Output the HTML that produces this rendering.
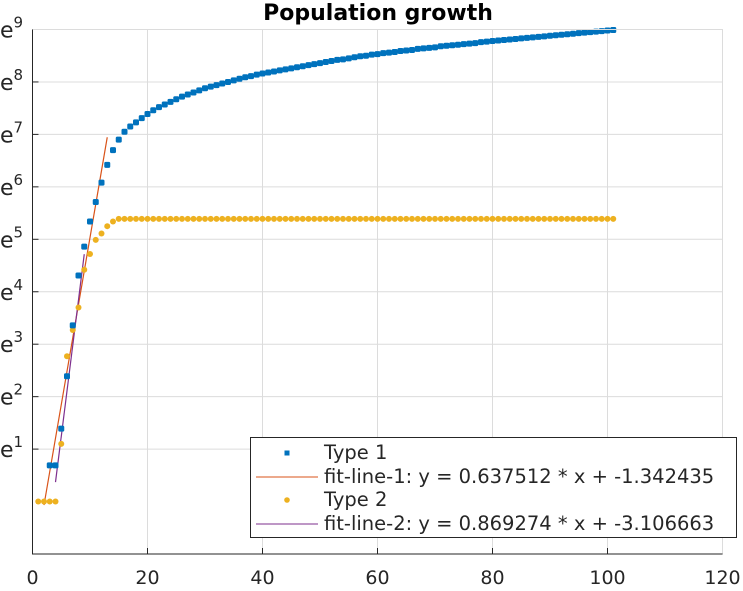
<!DOCTYPE html>
<html><head><meta charset="utf-8"><style>
body{margin:0;background:#fff;}
svg text{font-family:"DejaVu Sans","Liberation Sans",sans-serif;}
</style></head><body>
<svg id="chart" width="743" height="586" xmlns="http://www.w3.org/2000/svg">
<text x="378" y="20" text-anchor="middle" font-size="22" font-weight="bold" fill="#000">Population growth</text>
<g id="grid"></g><g id="fits"></g><g id="pts"></g><g id="axes"></g>
<g>
<rect x="250.5" y="437.5" width="486" height="100" fill="#fff" stroke="#262626" stroke-width="1"/>
<rect x="284.5" y="450.5" width="5" height="5" fill="#0072BD"/>
<text x="324" y="459" font-size="19.5" fill="#262626">Type 1</text>
<line x1="256" y1="477" x2="318" y2="477" stroke="#D95319"/>
<text x="324" y="483" font-size="19.5" fill="#262626">fit-line-1: y = 0.637512 * x + -1.342435</text>
<circle cx="287" cy="500" r="2.8" fill="#EDB120"/>
<text x="324" y="506" font-size="19.5" fill="#262626">Type 2</text>
<line x1="256" y1="524" x2="318" y2="524" stroke="#7E2F8E"/>
<text x="324" y="530" font-size="19.5" fill="#262626">fit-line-2: y = 0.869274 * x + -3.106663</text>
</g>
</svg>
<script>
const xTicks=[0,20,40,60,80,100,120];
const yTickExps=[1,2,3,4,5,6,7,8,9];
const type1X=[];for(let i=3;i<=101;i++)type1X.push(i);
const type1LnValues=[0.69,0.69,1.39,2.39,3.36,4.31,4.86,5.34,5.71,6.08,6.42,6.70,6.90,7.05,7.15,7.23,7.31,7.39,
7.46,7.52,7.57,7.62,7.67,7.72,7.76,7.80,7.84,7.88,7.91,7.94,7.97,8.00,8.03,8.06,8.09,8.11,8.14,8.16,
8.18,8.20,8.22,8.24,8.26,8.28,8.30,8.32,8.34,8.36,8.38,8.40,8.42,8.43,8.45,8.47,8.49,8.50,8.52,8.53,
8.55,8.56,8.57,8.59,8.60,8.61,8.63,8.64,8.65,8.66,8.68,8.69,8.70,8.71,8.72,8.73,8.74,8.76,8.77,8.78,
8.79,8.80,8.81,8.82,8.83,8.84,8.85,8.86,8.87,8.88,8.89,8.90,8.91,8.92,8.93,8.94,8.95,8.96,8.97,8.98,8.99];
const type2X=[];for(let i=1;i<=101;i++)type2X.push(i);
const type2LnValues=[0,0,0,0,1.1,2.77,3.27,3.70,4.42,4.72,4.99,5.11,5.25,5.34].concat(new Array(87).fill(5.39));
const fit1=[0.637512,-1.342435],fit1Range=[2,13];
const fit2=[0.869274,-3.106663],fit2Range=[4,9];
const X0=32.5,X1=722.5,Y0=554,Y1=29.5,XMAX=120,LMIN=-1,LMAX=9;
const sx=v=>X0+(v/XMAX)*(X1-X0);
const sy=l=>Y0-(l-LMIN)/(LMAX-LMIN)*(Y0-Y1);
const NS="http://www.w3.org/2000/svg";
function mk(tag,attrs,parent){const e=document.createElementNS(NS,tag);for(const k in attrs)e.setAttribute(k,attrs[k]);document.getElementById(parent).appendChild(e);return e;}
xTicks.forEach(t=>{
  if(t>0){const g=mk('line',{x1:sx(t),x2:sx(t),y1:Y1,y2:Y0,stroke:'#dcdcdc'},'grid');
  
  }
  const tk=mk('line',{x1:sx(t),x2:sx(t),y1:Y0,y2:Y0-6,stroke:'#262626'},'axes');
  
  
  const tx=mk('text',{x:sx(t),y:584,'text-anchor':'middle','font-size':'19','fill':'#262626'},'axes');
  tx.textContent=t;
  
  
});
yTickExps.forEach(t=>{
  const g=mk('line',{x1:X0,x2:X1,y1:sy(t),y2:sy(t),stroke:'#dcdcdc'},'grid');
  
  
  const tk=mk('line',{x1:X0,x2:X0+6,y1:sy(t),y2:sy(t),stroke:'#262626'},'axes');
  
  
  const tx=mk('text',{x:0,y:sy(t)+8,'font-size':'22',fill:'#262626'},'axes');
  tx.innerHTML='e<tspan font-size="15" dy="-10">'+t+'</tspan>';
  
  
});
const box=mk('path',{d:`M${X0} ${Y1}H${X1}V${Y0}H${X0}Z`,fill:'none',stroke:'#dcdcdc'},'axes');


const ax=mk('path',{d:`M${X0} ${Y1}V${Y0}H${X1}`,fill:'none',stroke:'#262626'},'axes');


[[fit1,fit1Range,'#D95319','fit-line-1'],[fit2,fit2Range,'#7E2F8E','fit-line-2']].forEach(([f,r,c,n])=>{
  const l=mk('line',{x1:sx(r[0]),y1:sy(f[0]*r[0]+f[1]),x2:sx(r[1]),y2:sy(f[0]*r[1]+f[1]),stroke:c,'stroke-width':'1.2'},'fits');
  
  
});
type2X.forEach((x,i)=>{
  const p=mk('circle',{cx:sx(x),cy:sy(type2LnValues[i]),r:3,fill:'#EDB120'},'pts');
  
  
});
type1X.forEach((x,i)=>{
  const p=mk('rect',{x:sx(x)-3,y:sy(type1LnValues[i])-3,width:6,height:6,rx:1.5,fill:'#0072BD'},'pts');
  
  
});
</script>
</body></html>
